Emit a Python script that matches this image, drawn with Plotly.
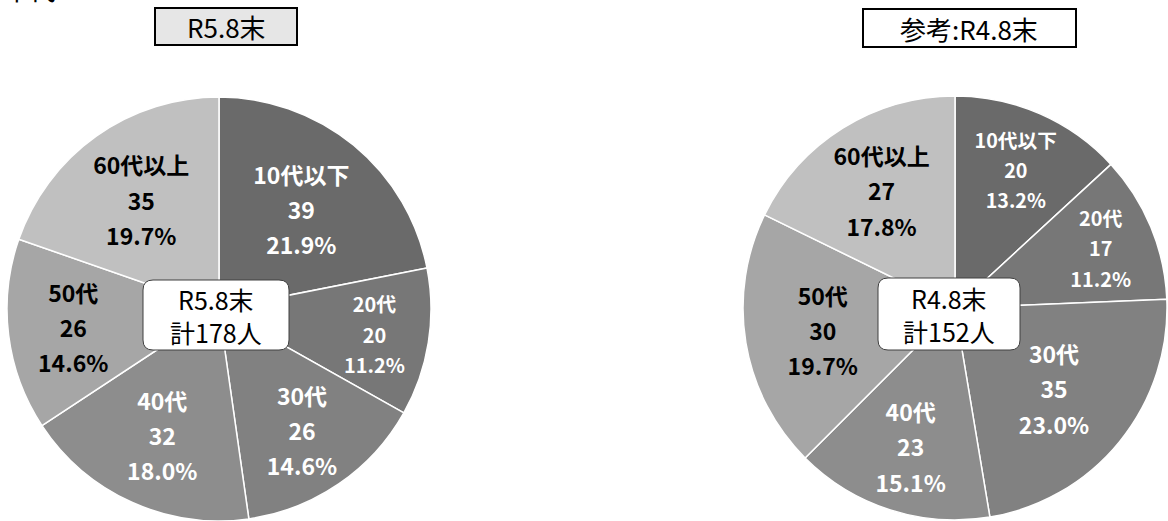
import plotly.graph_objects as go

# ---- data ----
categories = ["10代以下", "20代", "30代", "40代", "50代", "60代以上"]
values_r5 = [39, 20, 26, 32, 26, 35]
values_r4 = [20, 17, 35, 23, 30, 27]
title_r5 = "R5.8末"
title_r4 = "参考:R4.8末"
center_r5 = "R5.8末"
center_r4 = "R4.8末"
corner_label = "年代"

slice_colors = ["#6a6a6a", "#777777", "#818181", "#8d8d8d", "#a6a6a6", "#c0c0c0"]
text_colors = ["white", "white", "white", "white", "black", "black"]

W, H = 1168, 521
FONT = "Noto Sans CJK JP"


def px(x):
    return x / W


def py(y):
    return 1 - y / H


tmpl = ("<span style='font-size:23px'>%{label}</span><br>"
        "<span style='font-size:23px'>%{value}</span><br>"
        "<span style='font-size:23px'>%{percent:.1%}</span>")


def make_pie(values, domx, domy, name):
    return go.Pie(
        labels=categories,
        values=values,
        name=name,
        sort=False,
        direction="clockwise",
        rotation=0,
        domain=dict(x=domx, y=domy),
        marker=dict(colors=slice_colors, line=dict(color="white", width=1.5)),
        texttemplate=tmpl,
        textposition="inside",
        insidetextorientation="horizontal",
        textfont=dict(family=FONT, size=27, color=text_colors, weight="bold"),
        hoverinfo="label+value+percent",
        showlegend=False,
    )


fig = go.Figure()
fig.add_trace(make_pie(values_r5, [px(5), px(433)], [0, py(97)], title_r5))
fig.add_trace(make_pie(values_r4, [px(743), px(1167)], [0, py(95)], title_r4))


def rounded_rect(x0, y0, x1, y1, r):
    # pixel coords -> paper path with rounded corners
    pts = []
    pts.append(f"M {px(x0 + r)},{py(y0)}")
    pts.append(f"L {px(x1 - r)},{py(y0)}")
    pts.append(f"Q {px(x1)},{py(y0)} {px(x1)},{py(y0 + r)}")
    pts.append(f"L {px(x1)},{py(y1 - r)}")
    pts.append(f"Q {px(x1)},{py(y1)} {px(x1 - r)},{py(y1)}")
    pts.append(f"L {px(x0 + r)},{py(y1)}")
    pts.append(f"Q {px(x0)},{py(y1)} {px(x0)},{py(y1 - r)}")
    pts.append(f"L {px(x0)},{py(y0 + r)}")
    pts.append(f"Q {px(x0)},{py(y0)} {px(x0 + r)},{py(y0)}")
    pts.append("Z")
    return " ".join(pts)


shapes = []
annotations = []

# center boxes
for (x0, y0, x1, y1), label, vals in [
    ((143, 280, 289, 350), center_r5, values_r5),
    ((878, 278, 1020, 350), center_r4, values_r4),
]:
    shapes.append(dict(type="path", xref="paper", yref="paper",
                       path=rounded_rect(x0, y0, x1, y1, 10),
                       fillcolor="white", line=dict(color="#404040", width=1)))
    annotations.append(dict(xref="paper", yref="paper",
                            x=px((x0 + x1) / 2), y=py((y0 + y1) / 2),
                            xanchor="center", yanchor="middle",
                            text=f"{label}<br>計{sum(vals)}人", showarrow=False,
                            font=dict(family=FONT, size=25, color="black")))

# title boxes
for (x0, y0, x1, y1), label, fill in [
    ((155, 8, 297, 45), title_r5, "#e6e6e6"),
    ((863, 9, 1076, 47), title_r4, "white"),
]:
    shapes.append(dict(type="rect", xref="paper", yref="paper",
                       x0=px(x0), x1=px(x1), y0=py(y1), y1=py(y0),
                       fillcolor=fill, line=dict(color="black", width=2)))
    annotations.append(dict(xref="paper", yref="paper",
                            x=px((x0 + x1) / 2), y=py((y0 + y1) / 2),
                            xanchor="center", yanchor="middle",
                            text=label, showarrow=False,
                            font=dict(family=FONT, size=26, color="black")))

# partially visible corner label
annotations.append(dict(xref="paper", yref="paper", x=0, y=py(10),
                        xanchor="left", yanchor="bottom", text=corner_label,
                        showarrow=False,
                        font=dict(family=FONT, size=27, color="black")))

fig.update_layout(
    width=W, height=H,
    margin=dict(l=0, r=0, t=0, b=0),
    paper_bgcolor="white",
    plot_bgcolor="white",
    shapes=shapes,
    annotations=annotations,
)

fig.write_html("out.html",
               config={"displayModeBar": False},
               post_script="document.body.style.margin='0';document.body.style.overflow='hidden';")
